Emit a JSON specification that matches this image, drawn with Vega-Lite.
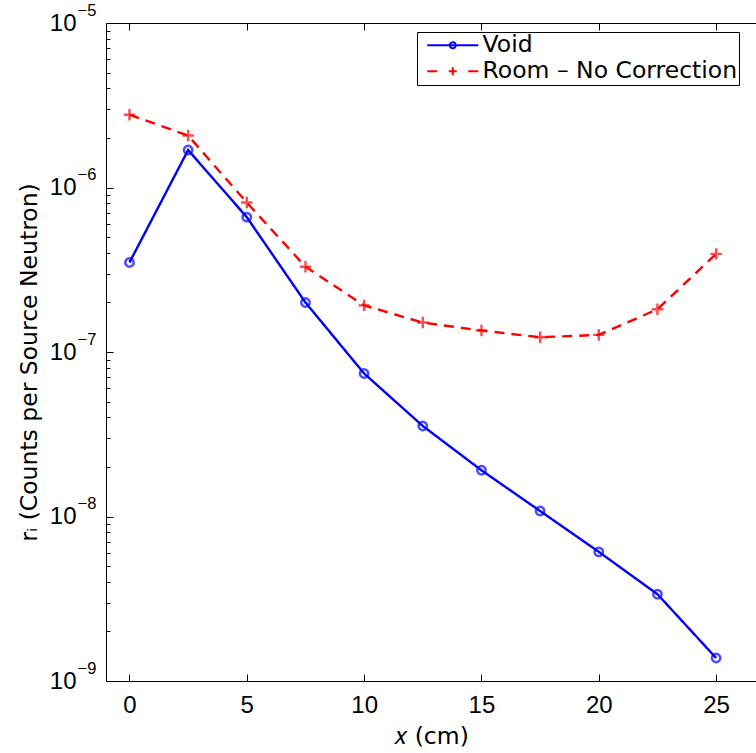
{
  "$schema": "https://vega.github.io/schema/vega-lite/v6.json",
  "width": 650,
  "height": 658,
  "autosize": {"type": "none"},
  "padding": {"left": 106, "top": 23, "right": 0, "bottom": 72},
  "background": "white",
  "config": {
    "view": {"stroke": null},
    "axis": {
      "grid": false,
      "domainColor": "black",
      "tickColor": "black",
      "labelColor": "black",
      "titleColor": "black",
      "labelFont": "Liberation Sans",
      "labelFontSize": 24,
      "titleFont": "DejaVu Sans",
      "titleFontSize": 23.5,
      "titleFontWeight": "normal"
    }
  },
  "data": {
    "values": [
      {"series": "Void", "x": 0, "r": 3.5e-7},
      {"series": "Void", "x": 2.5, "r": 1.69e-6},
      {"series": "Void", "x": 5, "r": 6.6e-7},
      {"series": "Void", "x": 7.5, "r": 2.0e-7},
      {"series": "Void", "x": 10, "r": 7.4e-8},
      {"series": "Void", "x": 12.5, "r": 3.55e-8},
      {"series": "Void", "x": 15, "r": 1.91e-8},
      {"series": "Void", "x": 17.5, "r": 1.08e-8},
      {"series": "Void", "x": 20, "r": 6.1e-9},
      {"series": "Void", "x": 22.5, "r": 3.37e-9},
      {"series": "Void", "x": 25, "r": 1.38e-9},
      {"series": "Room – No Correction", "x": 0, "r": 2.77e-6},
      {"series": "Room – No Correction", "x": 2.5, "r": 2.07e-6},
      {"series": "Room – No Correction", "x": 5, "r": 8.1e-7},
      {"series": "Room – No Correction", "x": 7.5, "r": 3.3e-7},
      {"series": "Room – No Correction", "x": 10, "r": 1.92e-7},
      {"series": "Room – No Correction", "x": 12.5, "r": 1.51e-7},
      {"series": "Room – No Correction", "x": 15, "r": 1.35e-7},
      {"series": "Room – No Correction", "x": 17.5, "r": 1.23e-7},
      {"series": "Room – No Correction", "x": 20, "r": 1.27e-7},
      {"series": "Room – No Correction", "x": 22.5, "r": 1.82e-7},
      {"series": "Room – No Correction", "x": 25, "r": 3.95e-7}
    ]
  },
  "resolve": {"axis": {"x": "independent", "y": "independent"}},
  "layer": [
    {
      "mark": {"type": "line", "strokeWidth": 2.4},
      "encoding": {
        "x": {
          "field": "x", "type": "quantitative",
          "scale": {"domain": [-1, 26.7], "nice": false, "zero": false},
          "axis": {
            "orient": "bottom",
            "values": [0, 5, 10, 15, 20, 25],
            "tickSize": -7,
            "labelPadding": 19,
            "title": "𝑥 (cm)",
            "titlePadding": 7
          }
        },
        "y": {
          "field": "r", "type": "quantitative",
          "scale": {"type": "log", "domain": [1e-9, 1e-5], "nice": false},
          "axis": {
            "orient": "left",
            "values": [1e-9, 2e-9, 3e-9, 4e-9, 5e-9, 6e-9, 7e-9, 8e-9, 9e-9,
                       1e-8, 2e-8, 3e-8, 4e-8, 5e-8, 6e-8, 7e-8, 8e-8, 9e-8,
                       1e-7, 2e-7, 3e-7, 4e-7, 5e-7, 6e-7, 7e-7, 8e-7, 9e-7,
                       1e-6, 2e-6, 3e-6, 4e-6, 5e-6, 6e-6, 7e-6, 8e-6, 9e-6, 1e-5],
            "labelExpr": "abs(log(datum.value)/LN10 - round(log(datum.value)/LN10)) < 0.01 ? '10' : ''",
            "labelOverlap": false,
            "tickSize": {"condition": {"test": "abs(log(datum.value)/LN10 - round(log(datum.value)/LN10)) < 0.01", "value": -7}, "value": -4},
            "labelPadding": 37,
            "title": "rᵢ (Counts per Source Neutron)",
            "titlePadding": 8,
            "titleY": 339
          }
        },
        "color": {
          "field": "series", "type": "nominal",
          "scale": {"domain": ["Void", "Room – No Correction"], "range": ["#0000ff", "#ff0000"]},
          "legend": {
            "orient": "none",
            "legendX": 311,
            "legendY": 9,
            "title": null,
            "strokeColor": "black",
            "fillColor": "white",
            "padding": 1.5,
            "labelFont": "DejaVu Sans",
            "labelFontSize": 23.5,
            "labelColor": "black",
            "labelLimit": 0,
            "symbolSize": 100,
            "symbolStrokeWidth": 2,
            "symbolOffset": 22.5,
            "rowPadding": 1,
            "labelOffset": 18,
            "cornerRadius": 0,
            "encode": {
              "symbols": {
                "update": {
                  "shape": {"signal": "datum.value === 'Void' ? 'M-5.1,0H5.1M0.6,0A0.6,0.6 0 1,1 -0.6,0A0.6,0.6 0 1,1 0.6,0' : 'M-5.1,0H-3.1M-0.8,0H0.8M3.1,0H5.1M0,-0.8V0.8'"},
                  "fill": {"value": "transparent"},
                  "strokeDash": {"value": [1, 0]}
                }
              }
            }
          }
        },
        "strokeDash": {
          "field": "series", "type": "nominal",
          "scale": {"domain": ["Void", "Room – No Correction"], "range": [[1, 0], [10, 7]]},
          "legend": null
        }
      }
    },
    {
      "transform": [{"filter": "datum.series === 'Void'"}],
      "mark": {"type": "point", "shape": "circle", "filled": false, "color": "#0000ff", "strokeWidth": 2.5, "size": 70},
      "encoding": {
        "x": {
          "field": "x", "type": "quantitative",
          "axis": {"orient": "top", "labels": false, "title": null, "tickSize": -7, "values": [0, 5, 10, 15, 20, 25]}
        },
        "y": {
          "field": "r", "type": "quantitative",
          "axis": {
            "orient": "left",
            "values": [1e-9, 1e-8, 1e-7, 1e-6, 1e-5],
            "labelExpr": "'−' + ['0','1','2','3','4','5','6','7','8','9'][-round(log(datum.value)/LN10)]",
            "labelOverlap": false,
            "labelFontSize": 16.5,
            "labelAlign": "left",
            "labelBaseline": "middle",
            "labelOffset": -13,
            "ticks": false,
            "tickSize": 0,
            "domain": false,
            "labelPadding": 29,
            "title": null
          }
        }
      }
    },
    {
      "transform": [{"filter": "datum.series !== 'Void'"}],
      "mark": {"type": "point", "shape": "M-1,0H1M0,-1V1", "filled": false, "color": "#ff0000", "strokeWidth": 2.4, "size": 130},
      "encoding": {
        "x": {"field": "x", "type": "quantitative", "axis": null},
        "y": {"field": "r", "type": "quantitative", "axis": null}
      }
    }
  ]
}
